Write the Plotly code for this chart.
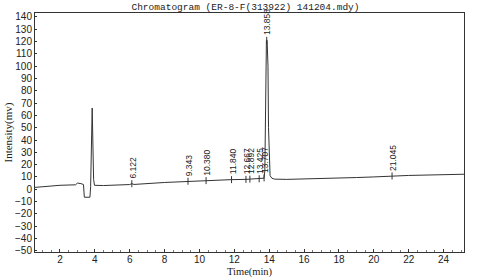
import plotly.graph_objects as go

# Chromatogram trace (time in min, intensity in mV)
times = [0.57, 1.0, 2.0, 2.9, 3.0, 3.2, 3.35, 3.4, 3.72, 3.76, 3.85, 3.93, 3.98,
         4.5, 6.0, 6.12, 6.25, 8.0, 9.34, 10.38, 11.84, 12.67, 12.89, 13.43,
         13.70, 13.75, 13.78, 13.80, 13.84, 13.88, 13.93, 13.96, 14.0, 14.05,
         14.15, 14.3, 15.0, 17.0, 19.0, 20.0, 21.045, 22.0, 25.2]
intensity = [1.5, 2.0, 3.2, 3.6, 5.0, 4.6, 3.8, -6.5, -6.5, 2.0, 66.0, 8.0, 3.2,
             3.0, 3.8, 4.5, 3.9, 5.5, 6.5, 7.0, 7.8, 8.0, 8.2, 8.5,
             9.0, 15.0, 60.0, 105.0, 121.0, 121.0, 100.0, 50.0, 20.0, 11.0,
             9.0, 8.2, 8.0, 8.5, 9.5, 10.0, 10.8, 11.2, 12.2]

# Labelled peaks
peak_labels = ["6.122", "9.343", "10.380", "11.840", "12.667", "12.892",
               "13.425", "13.707", "13.858", "21.045"]
peak_times = [6.122, 9.343, 10.380, 11.840, 12.667, 12.892, 13.425, 13.707, 13.858, 21.045]
peak_heights = [4.5, 6.5, 7.0, 7.8, 8.0, 8.2, 8.5, 9.2, 121.0, 10.8]

x_ticks = [2, 4, 6, 8, 10, 12, 14, 16, 18, 20, 22, 24]
y_ticks = list(range(-50, 141, 10))

fig = go.Figure()
fig.add_trace(go.Scatter(x=times, y=intensity, mode="lines",
                         line=dict(color="#333333", width=1), hoverinfo="skip"))
fig.add_trace(go.Scatter(x=peak_times, y=peak_heights, mode="markers",
                         marker=dict(symbol="line-ns", size=5,
                                     line=dict(color="#333333", width=1)),
                         hoverinfo="skip"))

for lab, t, h in zip(peak_labels, peak_times, peak_heights):
    fig.add_annotation(x=t, y=h, text=lab, textangle=-90, showarrow=False,
                       xanchor="center", yanchor="bottom", yshift=3, xshift=1,
                       font=dict(family="Liberation Sans, Arial", size=8.5, color="#222222"))

# axis titles as paper annotations (positioned like the original)
fig.add_annotation(xref="paper", yref="paper", x=0.5, y=0, yshift=-20,
                   text="Time(min)", showarrow=False, xanchor="center", yanchor="middle",
                   font=dict(family="Liberation Serif, Times New Roman", size=10.5, color="#222222"))
fig.add_annotation(xref="paper", yref="paper", x=0, xshift=-27, y=0.5,
                   text="Intensity(mv)", textangle=-90, showarrow=False,
                   xanchor="center", yanchor="middle",
                   font=dict(family="Liberation Serif, Times New Roman", size=11, color="#222222"))

fig.update_layout(
    width=491, height=278,
    margin=dict(l=35, r=27, t=13, b=26),
    paper_bgcolor="white", plot_bgcolor="white",
    showlegend=False,
    title=dict(text="Chromatogram (ER-8-F(313922) 141204.mdy)",
               x=0.5, xanchor="center", y=0.975, yanchor="middle",
               font=dict(family="Liberation Mono, Courier New, monospace", size=9.5, color="#222222")),
    font=dict(family="Liberation Sans, Arial", size=10, color="#222222"),
)
fig.update_xaxes(range=[0.57, 25.17], tickvals=x_ticks, showgrid=False, zeroline=False,
                 automargin=False, ticklabelstandoff=-2,
                 showline=True, linecolor="#333333", linewidth=1, mirror=True,
                 ticks="inside", ticklen=3, tickcolor="#333333",
                 minor=dict(ticks="inside", ticklen=2, dtick=0.5, tickcolor="#777777"),
                 tickfont=dict(size=10))
fig.update_yaxes(range=[-51, 143.2], tickvals=y_ticks, showgrid=False, zeroline=False,
                 automargin=False,
                 showline=True, linecolor="#333333", linewidth=1, mirror=True,
                 ticks="inside", ticklen=2, tickcolor="#333333",
                 tickfont=dict(size=10))

fig.write_html("out.html")
